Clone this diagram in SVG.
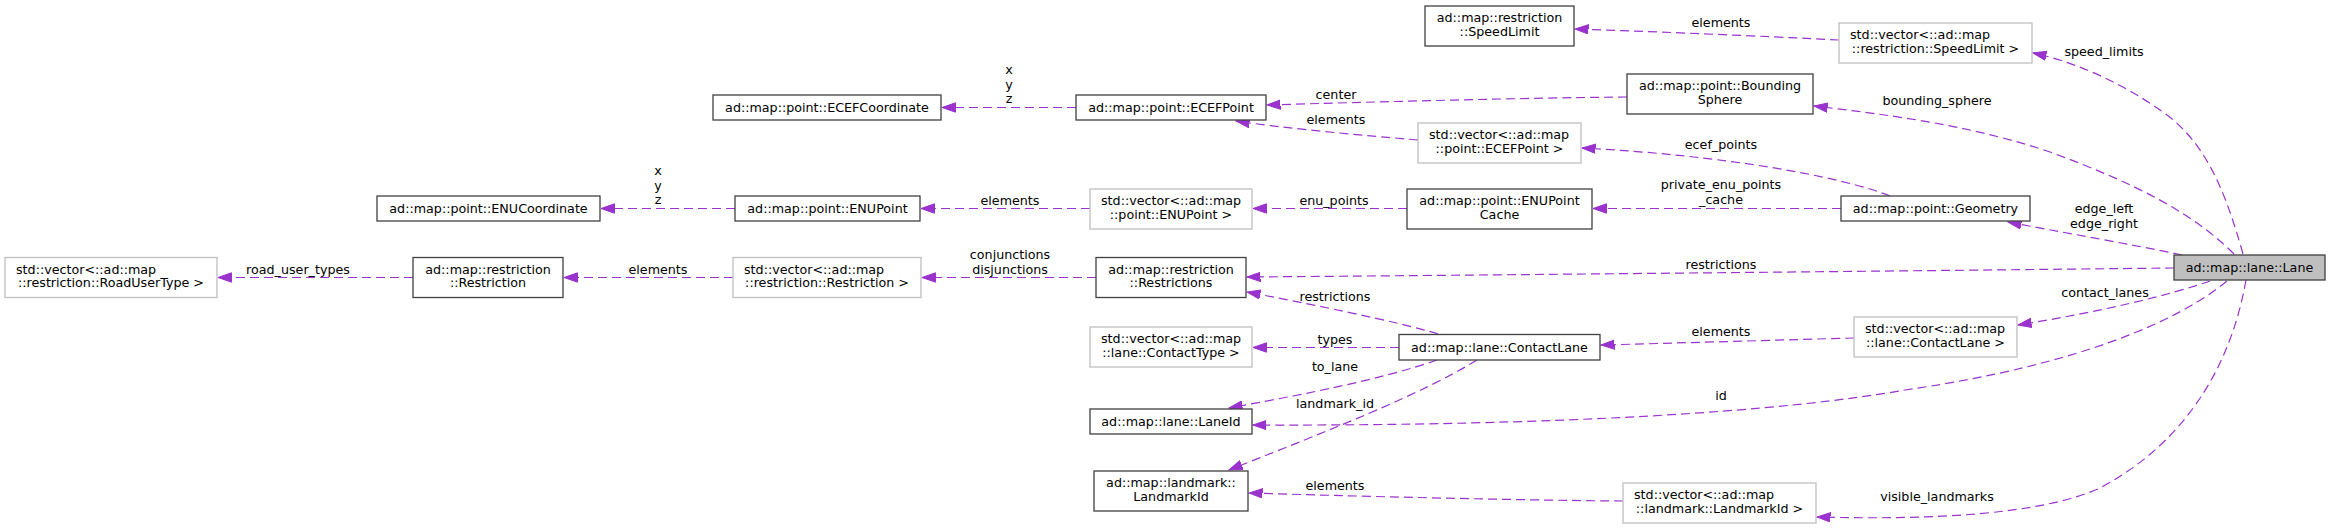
<svg xmlns="http://www.w3.org/2000/svg" width="2331" height="529" viewBox="0 0 2331 529">
<style>
text{font-family:"DejaVu Sans","Liberation Sans",sans-serif;font-size:12.7px;fill:#000}
.m{text-anchor:middle}
.s{text-anchor:start}
.b{fill:#fff;stroke:#404040;stroke-width:1.3}
.g{fill:#fff;stroke:#bfbfbf;stroke-width:1.3}
.c{fill:#bfbfbf;stroke:#404040;stroke-width:1.3}
.e{fill:none;stroke:#9a32cd;stroke-width:1.2;stroke-dasharray:9,5;marker-end:url(#ah)}
</style>
<defs>
<marker id="ah" markerUnits="userSpaceOnUse" markerWidth="15" markerHeight="11" refX="13.5" refY="5" orient="auto">
<path d="M0,0.3 L13.5,5 L0,9.7 z" fill="#9a32cd" stroke="#9a32cd" stroke-width="1"/>
</marker>
</defs>
<rect width="2331" height="529" fill="#fff"/>

<g id="edges">
<path class="e" d="M1839,40 C1760,36 1640,31 1575,29"/>
<text class="m" x="1721" y="27">elements</text>
<path class="e" d="M2243,254 C2225,190 2205,140 2160,110 C2120,82 2075,62 2033,53"/>
<text class="m" x="2104" y="56">speed_limits</text>
<path class="e" d="M1627,97 C1520,98 1370,102 1267,105"/>
<text class="m" x="1336" y="99">center</text>
<path class="e" d="M2234,254 C2195,215 2140,185 2050,152 C1970,125 1890,115 1814,106"/>
<text class="m" x="1937" y="105">bounding_sphere</text>
<path class="e" d="M1418,140 C1360,135 1290,129 1236,121"/>
<text class="m" x="1336" y="124">elements</text>
<path class="e" d="M1890,196 C1840,176 1720,155 1582,148"/>
<text class="m" x="1721" y="149">ecef_points</text>
<path class="e" d="M1841,208.5 L1593,208.5"/>
<text class="m" x="1721" y="189">private_enu_points</text>
<text class="m" x="1721" y="204">_cache</text>
<path class="e" d="M1407,208.5 L1253,208.5"/>
<text class="m" x="1334" y="204.5">enu_points</text>
<path class="e" d="M1090,208.5 L921,208.5"/>
<text class="m" x="1010" y="204.5">elements</text>
<path class="e" d="M735,208.5 L601,208.5"/>
<text class="m" x="658" y="175">x</text>
<text class="m" x="658" y="189.5">y</text>
<text class="m" x="658" y="204">z</text>
<path class="e" d="M1076,107.5 L942,107.5"/>
<text class="m" x="1009" y="74">x</text>
<text class="m" x="1009" y="88.5">y</text>
<text class="m" x="1009" y="103">z</text>
<path class="e" d="M2182,255 C2130,244 2060,232 2008,222"/>
<text class="m" x="2104" y="213">edge_left</text>
<text class="m" x="2104" y="227.5">edge_right</text>
<path class="e" d="M2174,268 C1900,271 1500,275 1247,277"/>
<text class="m" x="1721" y="269">restrictions</text>
<path class="e" d="M1096,277.5 L922,277.5"/>
<text class="m" x="1010" y="259">conjunctions</text>
<text class="m" x="1010" y="273.5">disjunctions</text>
<path class="e" d="M733,277.5 L564,277.5"/>
<text class="m" x="658" y="273.5">elements</text>
<path class="e" d="M413,277.5 L218,277.5"/>
<text class="m" x="298" y="273.5">road_user_types</text>
<path class="e" d="M1438,334 C1400,322 1300,302 1247,292"/>
<text class="m" x="1335" y="301">restrictions</text>
<path class="e" d="M1399,347.5 L1253,347.5"/>
<text class="m" x="1335" y="343.5">types</text>
<path class="e" d="M1437,360 C1380,380 1300,395 1229,408"/>
<text class="m" x="1335" y="371">to_lane</text>
<path class="e" d="M1477,360 C1420,395 1330,430 1229,470"/>
<text class="m" x="1335" y="408">landmark_id</text>
<path class="e" d="M1854,338 C1780,340 1680,343 1601,345"/>
<text class="m" x="1721" y="336">elements</text>
<path class="e" d="M2210,281 C2170,295 2100,312 2018,325"/>
<text class="m" x="2105" y="297">contact_lanes</text>
<path class="e" d="M2227,281 C2180,320 2080,365 1905,390 C1780,412 1560,426 1253,425"/>
<text class="m" x="1721" y="400">id</text>
<path class="e" d="M1623,501 C1500,500 1350,496 1249,493"/>
<text class="m" x="1335" y="490">elements</text>
<path class="e" d="M2246,280 C2232,360 2190,440 2100,488 C2040,515 1930,520 1817,517"/>
<text class="m" x="1937" y="501">visible_landmarks</text>
</g>

<g id="node_SpeedLimit">
<rect class="b" x="1425" y="6" width="149" height="40"/>
<text class="m" x="1499.5" y="22">ad::map::restriction</text>
<text class="m" x="1499.5" y="35.5">::SpeedLimit</text>
</g>
<g id="node_vecSpeedLimit">
<rect class="g" x="1839" y="23" width="193" height="40"/>
<text class="s" x="1850" y="39">std::vector&lt;::ad::map</text>
<text class="m" x="1935.5" y="52.5">::restriction::SpeedLimit &gt;</text>
</g>
<g id="node_BoundingSphere">
<rect class="b" x="1627" y="74" width="186" height="40"/>
<text class="m" x="1720" y="90">ad::map::point::Bounding</text>
<text class="m" x="1720" y="103.5">Sphere</text>
</g>
<g id="node_ECEFCoordinate">
<rect class="b" x="713" y="95" width="228" height="25"/>
<text class="m" x="827" y="112">ad::map::point::ECEFCoordinate</text>
</g>
<g id="node_ECEFPoint">
<rect class="b" x="1076" y="95" width="190" height="25"/>
<text class="m" x="1171" y="112">ad::map::point::ECEFPoint</text>
</g>
<g id="node_vecECEFPoint">
<rect class="g" x="1418" y="123" width="163" height="40"/>
<text class="s" x="1429" y="139">std::vector&lt;::ad::map</text>
<text class="m" x="1499.5" y="152.5">::point::ECEFPoint &gt;</text>
</g>
<g id="node_ENUCoordinate">
<rect class="b" x="377" y="196" width="223" height="25"/>
<text class="m" x="488.5" y="213">ad::map::point::ENUCoordinate</text>
</g>
<g id="node_ENUPoint">
<rect class="b" x="735" y="196" width="185" height="25"/>
<text class="m" x="827.5" y="213">ad::map::point::ENUPoint</text>
</g>
<g id="node_vecENUPoint">
<rect class="g" x="1090" y="189" width="162" height="40"/>
<text class="s" x="1101" y="205">std::vector&lt;::ad::map</text>
<text class="m" x="1171" y="218.5">::point::ENUPoint &gt;</text>
</g>
<g id="node_ENUPointCache">
<rect class="b" x="1407" y="189" width="185" height="40"/>
<text class="m" x="1499.5" y="205">ad::map::point::ENUPoint</text>
<text class="m" x="1499.5" y="218.5">Cache</text>
</g>
<g id="node_Geometry">
<rect class="b" x="1841" y="196" width="189" height="25"/>
<text class="m" x="1935.5" y="213">ad::map::point::Geometry</text>
</g>
<g id="node_Lane">
<rect class="c" x="2174" y="255" width="151" height="25"/>
<text class="m" x="2249.5" y="272">ad::map::lane::Lane</text>
</g>
<g id="node_vecRoadUserType">
<rect class="g" x="5" y="257.5" width="212" height="40"/>
<text class="s" x="16" y="273.5">std::vector&lt;::ad::map</text>
<text class="m" x="111" y="287">::restriction::RoadUserType &gt;</text>
</g>
<g id="node_Restriction">
<rect class="b" x="413" y="257.5" width="150" height="40"/>
<text class="m" x="488" y="273.5">ad::map::restriction</text>
<text class="m" x="488" y="287">::Restriction</text>
</g>
<g id="node_vecRestriction">
<rect class="g" x="733" y="257.5" width="188" height="40"/>
<text class="s" x="744" y="273.5">std::vector&lt;::ad::map</text>
<text class="m" x="827" y="287">::restriction::Restriction &gt;</text>
</g>
<g id="node_Restrictions">
<rect class="b" x="1096" y="257.5" width="150" height="40"/>
<text class="m" x="1171" y="273.5">ad::map::restriction</text>
<text class="m" x="1171" y="287">::Restrictions</text>
</g>
<g id="node_vecContactType">
<rect class="g" x="1090" y="327" width="162" height="40"/>
<text class="s" x="1101" y="343">std::vector&lt;::ad::map</text>
<text class="m" x="1171" y="356.5">::lane::ContactType &gt;</text>
</g>
<g id="node_ContactLane">
<rect class="b" x="1399" y="334.5" width="201" height="25.5"/>
<text class="m" x="1499.5" y="351.5">ad::map::lane::ContactLane</text>
</g>
<g id="node_LaneId">
<rect class="b" x="1090" y="409" width="162" height="25"/>
<text class="m" x="1171" y="426">ad::map::lane::LaneId</text>
</g>
<g id="node_LandmarkId">
<rect class="b" x="1094" y="471" width="154" height="40"/>
<text class="m" x="1171" y="487">ad::map::landmark::</text>
<text class="m" x="1171" y="500.5">LandmarkId</text>
</g>
<g id="node_vecContactLane">
<rect class="g" x="1854" y="317" width="163" height="40"/>
<text class="s" x="1865" y="333">std::vector&lt;::ad::map</text>
<text class="m" x="1935.5" y="346.5">::lane::ContactLane &gt;</text>
</g>
<g id="node_vecLandmarkId">
<rect class="g" x="1623" y="483" width="193" height="40"/>
<text class="s" x="1634" y="499">std::vector&lt;::ad::map</text>
<text class="m" x="1719.5" y="512.5">::landmark::LandmarkId &gt;</text>
</g>
</svg>
